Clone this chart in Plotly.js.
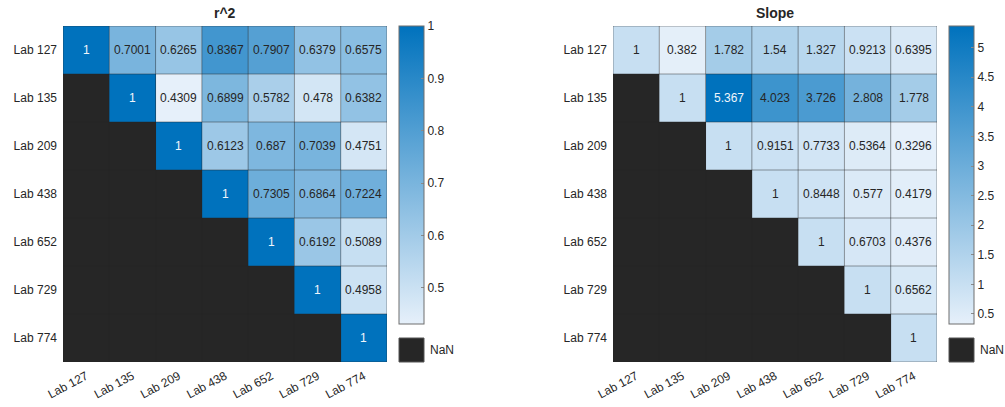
<!DOCTYPE html>
<html>
<head>
<meta charset="utf-8">
<script src="https://cdn.plot.ly/plotly-3.0.1.min.js"></script>
<style>html,body{margin:0;padding:0;background:#fff}#chart{width:1005px;height:407px}</style>
</head>
<body>
<div id="chart"></div>
<script>
const labs = ['Lab 127','Lab 135','Lab 209','Lab 438','Lab 652','Lab 729','Lab 774'];
const r2 = [
  [1, 0.7001, 0.6265, 0.8367, 0.7907, 0.6379, 0.6575],
  [null, 1, 0.4309, 0.6899, 0.5782, 0.478, 0.6382],
  [null, null, 1, 0.6123, 0.687, 0.7039, 0.4751],
  [null, null, null, 1, 0.7305, 0.6864, 0.7224],
  [null, null, null, null, 1, 0.6192, 0.5089],
  [null, null, null, null, null, 1, 0.4958],
  [null, null, null, null, null, null, 1]
];
const slope = [
  [1, 0.382, 1.782, 1.54, 1.327, 0.9213, 0.6395],
  [null, 1, 5.367, 4.023, 3.726, 2.808, 1.778],
  [null, null, 1, 0.9151, 0.7733, 0.5364, 0.3296],
  [null, null, null, 1, 0.8448, 0.577, 0.4179],
  [null, null, null, null, 1, 0.6703, 0.4376],
  [null, null, null, null, null, 1, 0.6562],
  [null, null, null, null, null, null, 1]
];
const titles = ['r^2', 'Slope'];
const r2Ticks = [0.5, 0.6, 0.7, 0.8, 0.9, 1];
const slopeTicks = [0.5, 1, 1.5, 2, 2.5, 3, 3.5, 4, 4.5, 5];

(function(){
const W = 1005, H = 407;
const FONT = '"Liberation Sans", Arial, Helvetica, sans-serif';
const DARK = '#262626';
const cs = [[0, '#E6F0FA'], [1, '#0072BD']];
const gridCol = 'rgba(38,38,38,0.45)';

function fmt(v){ return String(parseFloat(v.toPrecision(4))); }
function flat(m){ const a=[]; m.forEach(r=>r.forEach(v=>{ if(v!==null) a.push(v); })); return a; }

const panels = [
  {z: r2, ticks: r2Ticks, x0: 63, x1: 387, cb: 399, ax: '', title: titles[0]},
  {z: slope, ticks: slopeTicks, x0: 613, x1: 937, cb: 949, ax: '2', title: titles[1]}
];
const pTop = 26, pBot = 362, cbBot = 324;

const data = [], annotations = [], shapes = [];
const layout = {
  width: W, height: H, margin: {l:0, r:0, t:0, b:0},
  paper_bgcolor: '#fff', plot_bgcolor: DARK,
  font: {family: FONT, size: 12, color: DARK},
  showlegend: false
};

panels.forEach((p, k) => {
  const vals = flat(p.z);
  const zmin = Math.min(...vals), zmax = Math.max(...vals);
  const xa = 'x' + p.ax, ya = 'y' + p.ax;
  data.push({
    type: 'heatmap', x: labs, y: labs, z: p.z, xaxis: xa, yaxis: ya,
    colorscale: cs, zmin: zmin, zmax: zmax, hoverinfo: 'skip',
    colorbar: {
      x: p.cb / W, xanchor: 'left', xpad: 0, xref: 'paper',
      y: 1 - pTop / H, yanchor: 'top', ypad: 0, yref: 'paper',
      len: cbBot - pTop, lenmode: 'pixels', thickness: 25, thicknessmode: 'pixels',
      outlinewidth: 1, outlinecolor: '#6e6e6e',
      tickvals: p.ticks, ticktext: p.ticks.map(String),
      ticks: 'inside', ticklen: 3, tickcolor: '#8a8a8a',
      tickfont: {family: FONT, size: 12, color: DARK}
    }
  });
  const xKey = 'xaxis' + p.ax, yKey = 'yaxis' + p.ax;
  layout[xKey] = {
    domain: [p.x0 / W, p.x1 / W], anchor: ya, type: 'category',
    categoryorder: 'array', categoryarray: labs, range: [-0.5, 6.5],
    showgrid: false, zeroline: false, ticks: '', tickangle: -28, ticklabelstandoff: 4,
    tickfont: {family: FONT, size: 12, color: DARK}, fixedrange: true
  };
  layout[yKey] = {
    domain: [1 - pBot / H, 1 - pTop / H], anchor: xa, type: 'category',
    categoryorder: 'array', categoryarray: labs, range: [6.5, -0.5],
    showgrid: false, zeroline: false, ticks: '', ticklabelstandoff: 5,
    tickfont: {family: FONT, size: 12, color: DARK}, fixedrange: true
  };
  p.z.forEach((row, i) => row.forEach((v, j) => {
    if (v === null) return;
    const t = (v - zmin) / (zmax - zmin);
    annotations.push({
      xref: xa, yref: ya, x: labs[j], y: labs[i], text: fmt(v), showarrow: false,
      font: {family: FONT, size: 12, color: t > 0.8 ? '#f0f6fc' : DARK}
    });
  }));
  for (let e = 0; e <= labs.length; e++) {
    const c = e - 0.5;
    shapes.push({type:'line', xref: xa, yref: ya, x0: c, x1: c, y0: -0.5, y1: 6.5, line:{color: gridCol, width: 1}});
    shapes.push({type:'line', xref: xa, yref: ya, y0: c, y1: c, x0: -0.5, x1: 6.5, line:{color: gridCol, width: 1}});
  }
  annotations.push({
    xref: 'paper', yref: 'paper', x: (p.x0 + p.x1) / 2 / W, y: 1 - 13 / H,
    xanchor: 'center', yanchor: 'middle', showarrow: false, text: '<b>' + p.title + '</b>',
    font: {family: FONT, size: 14, color: DARK}
  });
  shapes.push({type:'rect', xref:'paper', yref:'paper',
    x0: p.cb / W, x1: (p.cb + 25) / W, y0: 1 - pBot / H, y1: 1 - 338 / H,
    fillcolor: DARK, line: {color: '#555', width: 1}});
  annotations.push({
    xref:'paper', yref:'paper', x: (p.cb + 29) / W, y: 1 - 350 / H,
    xanchor:'left', yanchor:'middle', showarrow:false, text:'NaN',
    font:{family: FONT, size: 12, color: DARK}
  });
});

layout.annotations = annotations;
layout.shapes = shapes;
Plotly.newPlot('chart', data, layout, {displayModeBar: false, staticPlot: true});
})();
</script>
</body>
</html>
